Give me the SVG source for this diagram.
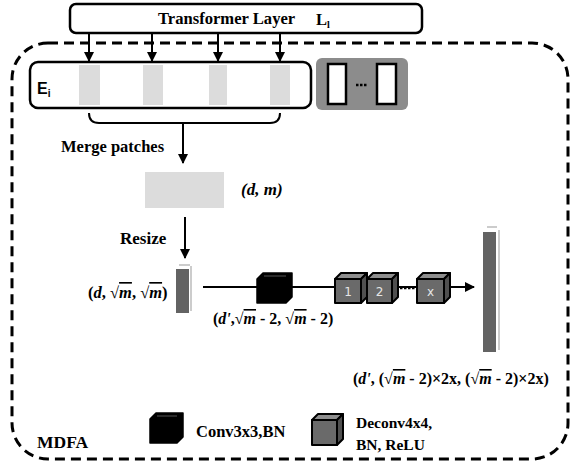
<svg xmlns="http://www.w3.org/2000/svg" width="572" height="468" viewBox="0 0 572 468">
<style>
.t{font-family:"Liberation Serif","Times New Roman",serif;font-weight:bold;fill:#000}
.ti{font-family:"Liberation Serif","Times New Roman",serif;font-weight:bold;font-style:italic;fill:#000}
.s{font-family:"Liberation Sans",Arial,sans-serif;font-weight:bold;fill:#000}
.ln{stroke:#000;stroke-width:2;fill:none}
.patch{fill:#dcdcdc}
.bk{fill:#000;stroke:#000;stroke-width:1.5;stroke-linejoin:round}
.gf{fill:#6a6a6a;stroke:#000;stroke-width:2;stroke-linejoin:round}
.gt{fill:#8e8e8e;stroke:#000;stroke-width:2;stroke-linejoin:round}
.gs{fill:#505050;stroke:#000;stroke-width:2;stroke-linejoin:round}
.lbl{font-family:"DejaVu Sans","Liberation Sans",sans-serif;font-size:12px;fill:#e6e6e6}
</style>
<defs>
<marker id="ah" viewBox="0 0 10 10" refX="9" refY="5" markerWidth="5" markerHeight="5" orient="auto" markerUnits="strokeWidth">
<path d="M0,0 L10,5 L0,10 z" fill="#000"/>
</marker>
</defs>

<g id="mdfa-frame">
<rect x="12" y="43" width="556" height="416" rx="36" fill="none" stroke="#000" stroke-width="3" stroke-dasharray="10 6"/>
<text class="t" x="37" y="448" font-size="17.5">MDFA</text>
</g>

<g id="transformer">
<rect x="70" y="4" width="352" height="29" rx="6" fill="#fff" stroke="#000" stroke-width="2.5"/>
<text class="t" x="158" y="24" font-size="16.6">Transformer Layer</text>
<text class="t" x="316" y="25" font-size="16.6">L<tspan font-size="10" dy="3">l</tspan></text>
</g>

<g id="connectors">
<line class="ln" x1="89" y1="33" x2="89" y2="61" marker-end="url(#ah)"/>
<line class="ln" x1="152" y1="33" x2="152" y2="61" marker-end="url(#ah)"/>
<line class="ln" x1="218" y1="33" x2="218" y2="61" marker-end="url(#ah)"/>
<line class="ln" x1="280" y1="33" x2="280" y2="61" marker-end="url(#ah)"/>
<path class="ln" d="M89,113 Q89,123 99,123 L270,123 Q280,123 280,113"/>
<line class="ln" x1="183" y1="123" x2="183" y2="163" marker-end="url(#ah)"/>
<line class="ln" x1="185" y1="217" x2="185" y2="258" marker-end="url(#ah)"/>
<line class="ln" x1="203" y1="287" x2="474" y2="287" marker-end="url(#ah)"/>
<line x1="400" y1="288" x2="416" y2="288" stroke="#000" stroke-width="2.5" stroke-dasharray="2.5 1.5"/>
</g>

<g id="embedding">
<rect x="30" y="62" width="281" height="46" rx="8" fill="#fff" stroke="#000" stroke-width="2.5"/>
<rect class="patch" x="79" y="65" width="21" height="40"/>
<rect class="patch" x="143" y="65" width="20" height="40"/>
<rect class="patch" x="209" y="65" width="18" height="40"/>
<rect class="patch" x="270" y="65" width="20" height="40"/>
<text class="s" x="37" y="94" font-size="16">E<tspan font-size="10" dy="3">i</tspan></text>
</g>

<g id="other-embeddings">
<rect x="316" y="58" width="92" height="52" rx="6" fill="#8c8c8c"/>
<rect x="328" y="64" width="18" height="40" fill="#fff" stroke="#000" stroke-width="2.5"/>
<rect x="377" y="64" width="19" height="40" fill="#fff" stroke="#000" stroke-width="2.5"/>
<line x1="356" y1="85" x2="367" y2="85" stroke="#000" stroke-width="2.5" stroke-dasharray="2.5 1.5"/>
</g>

<g id="merge">
<text class="t" x="61" y="152" font-size="16.5">Merge patches</text>
<rect class="patch" x="145" y="172" width="79" height="36"/>
<text class="ti" x="241" y="195" font-size="17">(d, m)</text>
</g>

<g id="resize">
<text class="t" x="120" y="244" font-size="17">Resize</text>
<rect x="176" y="269" width="13" height="44" fill="#636363"/>
<line x1="191" y1="266" x2="191" y2="311" stroke="#aaa" stroke-width="1.2"/>
<line x1="179" y1="265" x2="190" y2="265" stroke="#aaa" stroke-width="1.2"/>
<text class="t" x="88" y="298" font-size="16.5">(<tspan font-style="italic">d</tspan>, √<tspan font-style="italic" text-decoration="overline">m</tspan>, √<tspan font-style="italic" text-decoration="overline">m</tspan>)</text>
</g>

<g id="conv">
<path class="bk" d="M257,279 L263,273 L292,273 L292,297 L286,303 L257,303 Z"/>
<line x1="264" y1="276" x2="286" y2="276" stroke="#555" stroke-width="1"/>
<text class="t" x="213" y="324" font-size="16">(<tspan font-style="italic">d'</tspan>,√<tspan font-style="italic" text-decoration="overline">m</tspan> - 2, √<tspan font-style="italic" text-decoration="overline">m</tspan> - 2)</text>
</g>

<g id="deconv1">
<path class="gt" d="M335,279 L341,273 L367,273 L361,279 Z"/>
<path class="gs" d="M361,279 L367,273 L367,297 L361,303 Z"/>
<rect class="gf" x="335" y="279" width="26" height="24"/>
<text class="lbl" x="348" y="296" text-anchor="middle">1</text>
</g>
<g id="deconv2">
<path class="gt" d="M367,279 L373,273 L398,273 L392,279 Z"/>
<path class="gs" d="M392,279 L398,273 L398,297 L392,303 Z"/>
<rect class="gf" x="367" y="279" width="25" height="24"/>
<text class="lbl" x="379.5" y="296" text-anchor="middle">2</text>
</g>
<g id="deconvx">
<path class="gt" d="M417,279 L423,273 L450,273 L444,279 Z"/>
<path class="gs" d="M444,279 L450,273 L450,297 L444,303 Z"/>
<rect class="gf" x="417" y="279" width="27" height="24"/>
<text class="lbl" x="430.5" y="296" text-anchor="middle">x</text>
</g>

<g id="output">
<rect x="483" y="232" width="13" height="120" fill="#636363"/>
<line x1="499" y1="230" x2="499" y2="350" stroke="#aaa" stroke-width="1.2"/>
<line x1="487" y1="227" x2="497" y2="227" stroke="#aaa" stroke-width="1.2"/>
<text class="t" x="353" y="384" font-size="16">(<tspan font-style="italic">d'</tspan>, (√<tspan font-style="italic" text-decoration="overline">m</tspan> - 2)×2x, (√<tspan font-style="italic" text-decoration="overline">m</tspan> - 2)×2x)</text>
</g>

<g id="legend-conv">
<path class="bk" d="M150,419 L156,413 L183,413 L183,437 L177,443 L150,443 Z"/>
<line x1="157" y1="416" x2="177" y2="416" stroke="#555" stroke-width="1"/>
<text class="t" x="196" y="437" font-size="16.5">Conv3x3,BN</text>
</g>

<g id="legend-deconv">
<path class="gt" d="M312,420 L318,414 L343,414 L337,420 Z"/>
<path class="gs" d="M337,420 L343,414 L343,439 L337,445 Z"/>
<rect class="gf" x="312" y="420" width="25" height="25"/>
<text class="t" x="356" y="428" font-size="15.5">Deconv4x4,</text>
<text class="t" x="356" y="450" font-size="15.5">BN, ReLU</text>
</g>
</svg>
